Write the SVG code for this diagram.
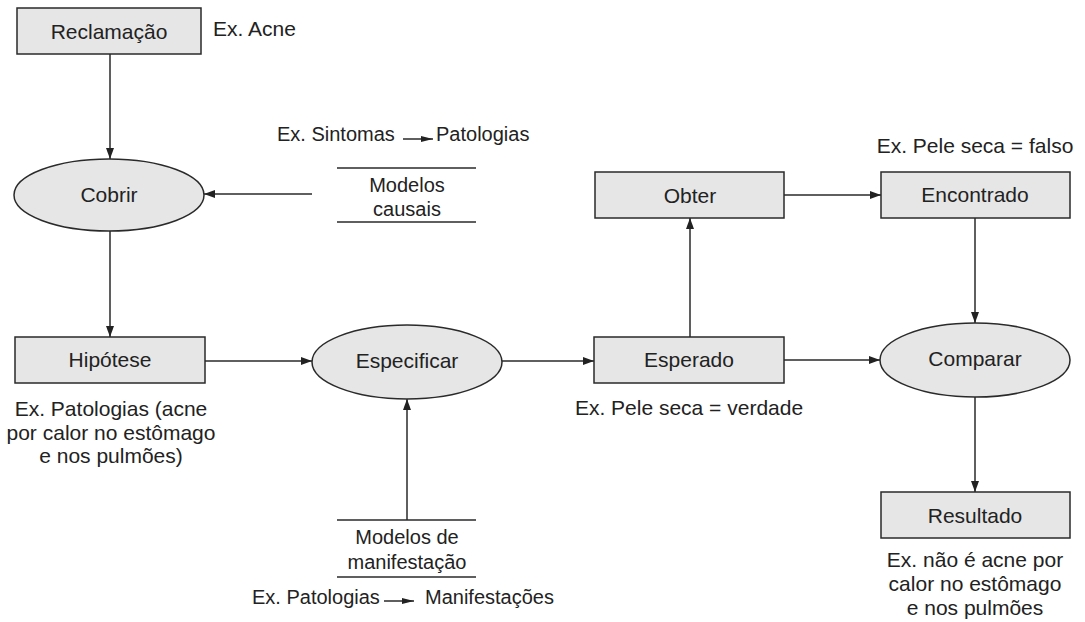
<svg xmlns="http://www.w3.org/2000/svg" width="1085" height="622" viewBox="0 0 1085 622">
<style>
.box{fill:#e6e6e6;stroke:#2a2a2a;stroke-width:1.5}
.t{font-family:"Liberation Sans",Arial,sans-serif;font-size:21px;fill:#222}
.s{font-size:20px}
.c{text-anchor:middle}
.ln{stroke:#2a2a2a;stroke-width:1.5;fill:none}
.sep{stroke:#2a2a2a;stroke-width:1.5}
</style>
<defs>
<marker id="ah" markerWidth="11" markerHeight="8" refX="11" refY="4" orient="auto" markerUnits="userSpaceOnUse">
<path d="M0,0 L11,4 L0,8 z" fill="#222"/>
</marker>
<marker id="sah" markerWidth="12" markerHeight="6" refX="12" refY="3" orient="auto" markerUnits="userSpaceOnUse">
<path d="M0,0 L12,3 L0,6 z" fill="#222"/>
</marker>
</defs>
<rect width="1085" height="622" fill="#fff"/>

<g id="connectors">
<line class="ln" x1="110" y1="54" x2="110" y2="159" marker-end="url(#ah)"/>
<line class="ln" x1="312" y1="194" x2="204" y2="194" marker-end="url(#ah)"/>
<line class="ln" x1="110" y1="231" x2="110" y2="337" marker-end="url(#ah)"/>
<line class="ln" x1="205" y1="361" x2="312" y2="361" marker-end="url(#ah)"/>
<line class="ln" x1="407" y1="520" x2="407" y2="399" marker-end="url(#ah)"/>
<line class="ln" x1="502" y1="361" x2="594" y2="361" marker-end="url(#ah)"/>
<line class="ln" x1="690" y1="337" x2="690" y2="218" marker-end="url(#ah)"/>
<line class="ln" x1="784" y1="195" x2="881" y2="195" marker-end="url(#ah)"/>
<line class="ln" x1="784" y1="360" x2="880" y2="360" marker-end="url(#ah)"/>
<line class="ln" x1="975" y1="218" x2="975" y2="323" marker-end="url(#ah)"/>
<line class="ln" x1="975" y1="397" x2="975" y2="492" marker-end="url(#ah)"/>
</g>

<g id="reclamacao">
<rect class="box" x="17" y="8" width="184" height="46"/>
<text class="t c" x="109" y="39">Reclamação</text>
<text class="t" x="213" y="36">Ex. Acne</text>
</g>

<g id="cobrir">
<ellipse class="box" cx="109" cy="195" rx="95" ry="36"/>
<text class="t c" x="109" y="202">Cobrir</text>
</g>

<g id="modelos-causais">
<text class="t s" x="277" y="141">Ex. Sintomas</text>
<line class="ln" x1="403" y1="139" x2="433" y2="139" marker-end="url(#sah)"/>
<text class="t s" x="436" y="141">Patologias</text>
<line class="sep" x1="337" y1="168" x2="476" y2="168"/>
<text class="t s c" x="407" y="192">Modelos</text>
<text class="t s c" x="407" y="216">causais</text>
<line class="sep" x1="337" y1="222" x2="476" y2="222"/>
</g>

<g id="hipotese">
<rect class="box" x="15" y="337" width="190" height="46"/>
<text class="t c" x="110" y="367">Hipótese</text>
<text class="t c" x="111" y="416">Ex. Patologias (acne</text>
<text class="t c" x="111" y="440">por calor no estômago</text>
<text class="t c" x="111" y="463">e nos pulmões)</text>
</g>

<g id="especificar">
<ellipse class="box" cx="407" cy="362" rx="95" ry="37"/>
<text class="t c" x="407" y="368">Especificar</text>
</g>

<g id="modelos-manifestacao">
<line class="sep" x1="337" y1="520" x2="476" y2="520"/>
<text class="t s c" x="407" y="544">Modelos de</text>
<text class="t s c" x="407" y="569">manifestação</text>
<line class="sep" x1="337" y1="577" x2="476" y2="577"/>
<text class="t s" x="252" y="604">Ex. Patologias</text>
<line class="ln" x1="384" y1="601" x2="414" y2="601" marker-end="url(#sah)"/>
<text class="t s" x="425" y="604">Manifestações</text>
</g>

<g id="esperado">
<rect class="box" x="594" y="337" width="190" height="46"/>
<text class="t c" x="689" y="367">Esperado</text>
<text class="t c" x="689" y="415">Ex. Pele seca = verdade</text>
</g>

<g id="obter">
<rect class="box" x="595" y="172" width="189" height="46"/>
<text class="t c" x="690" y="203">Obter</text>
</g>

<g id="encontrado">
<text class="t c" x="975" y="153">Ex. Pele seca = falso</text>
<rect class="box" x="881" y="172" width="189" height="46"/>
<text class="t c" x="975" y="202">Encontrado</text>
</g>

<g id="comparar">
<ellipse class="box" cx="975" cy="360" rx="95" ry="37"/>
<text class="t c" x="975" y="366">Comparar</text>
</g>

<g id="resultado">
<rect class="box" x="881" y="492" width="189" height="46"/>
<text class="t c" x="975" y="523">Resultado</text>
<text class="t c" x="975" y="567">Ex. não é acne por</text>
<text class="t c" x="975" y="591">calor no estômago</text>
<text class="t c" x="975" y="615">e nos pulmões</text>
</g>
</svg>
